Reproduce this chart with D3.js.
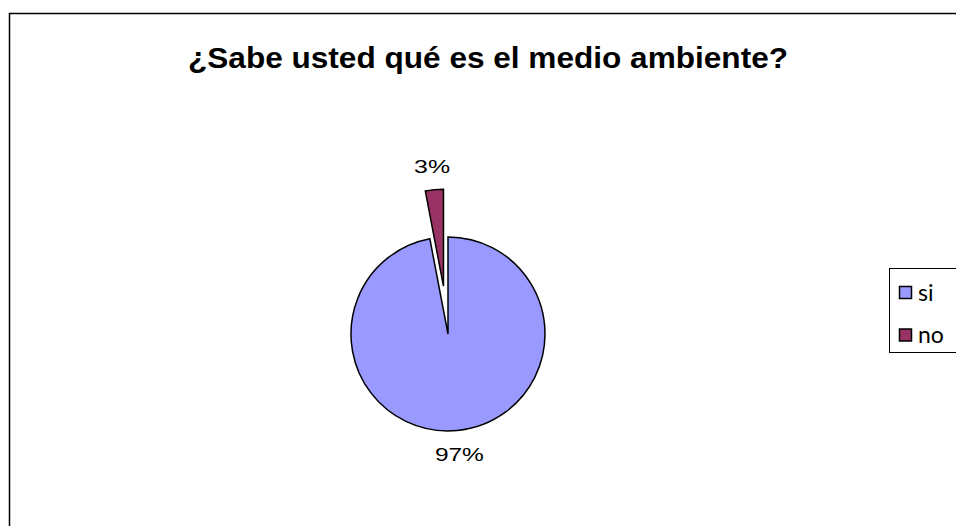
<!DOCTYPE html>
<html><head><meta charset="utf-8">
<script src="https://cdn.jsdelivr.net/npm/d3@7"></script>
<style>body{margin:0;background:#fff}svg{display:block}</style>
</head><body>
<script>
const categories = ["si", "no"];
const values = [97, 3];
const labels = ["97%", "3%"];
const colors = ["#9999FF", "#993366"];
const title = "¿Sabe usted qué es el medio ambiente?";

const W = 956, H = 526;
const svg = d3.select("body").append("svg").attr("width", W).attr("height", H);

// chart border
svg.append("rect").attr("x", 9.5).attr("y", 13.5).attr("width", 1000).attr("height", 600)
  .attr("fill", "#fff").attr("stroke", "#000").attr("stroke-width", 1.5);

svg.append("text").attr("x", 188).attr("y", 67.5)
  .attr("font-family", "Liberation Sans, Arial, sans-serif").attr("font-weight", "bold")
  .attr("font-size", 29).attr("textLength", 600).attr("lengthAdjust", "spacingAndGlyphs")
  .text(title);

const cx = 448, cy = 334, r = 97, explode = 48;
const pie = d3.pie().sort(null).value(d => d)(values);
const arc = d3.arc().innerRadius(0).outerRadius(r);
const g = svg.append("g").attr("transform", `translate(${cx},${cy})`);

pie.forEach((d, i) => {
  const mid = (d.startAngle + d.endAngle) / 2;
  const off = i === 1 ? explode : 0;
  const dx = Math.sin(mid) * off, dy = -Math.cos(mid) * off;
  g.append("path").attr("d", arc(d)).attr("transform", `translate(${dx},${dy})`)
    .attr("fill", colors[i]).attr("stroke", "#000").attr("stroke-width", 1.5)
    .attr("stroke-linejoin", "miter");
  // label outside end along bisector
  const lr = r + 24;
  const lx = dx + Math.sin(mid) * lr, ly = dy - Math.cos(mid) * lr;
  g.append("text").attr("x", lx).attr("y", ly).attr("dy", "0.36em")
    .attr("text-anchor", "middle").attr("font-family", "Liberation Sans, Arial, sans-serif")
    .attr("font-size", 19).attr("textLength", i === 0 ? 49 : 36)
    .attr("lengthAdjust", "spacingAndGlyphs").text(labels[i]);
});

// legend
const lg = svg.append("g");
lg.append("rect").attr("x", 889.5).attr("y", 268.5).attr("width", 100).attr("height", 84)
  .attr("fill", "#fff").attr("stroke", "#000").attr("stroke-width", 1);
categories.forEach((c, i) => {
  const y = 292.5 + i * 42.5;
  lg.append("rect").attr("x", 899.5).attr("y", y - 6).attr("width", 12).attr("height", 12)
    .attr("fill", colors[i]).attr("stroke", "#000").attr("stroke-width", 1.5);
  lg.append("text").attr("x", 918).attr("y", y).attr("dy", "0.36em").attr("font-family", "Lato, sans-serif")
    .attr("font-size", 23).text(c);
});
</script>
</body></html>
